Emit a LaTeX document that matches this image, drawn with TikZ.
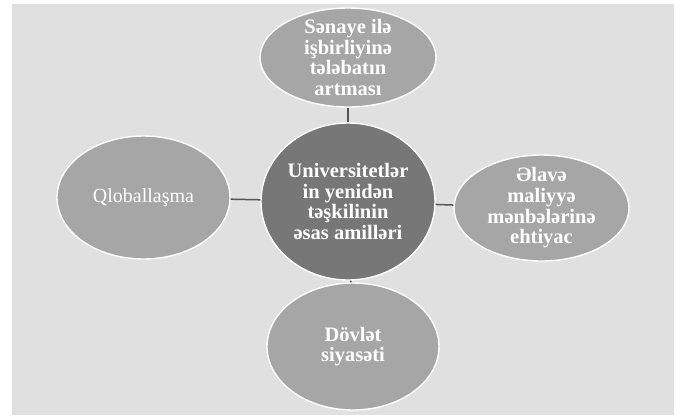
\documentclass[tikz,border=0pt]{standalone}
\usepackage{fontspec}
\setmainfont{Liberation Serif}
\usetikzlibrary{shapes.geometric}
\definecolor{bggray}{HTML}{E0E0E0}
\definecolor{hubgray}{HTML}{777777}
\definecolor{satgray}{HTML}{A6A6A6}
\definecolor{linkgray}{HTML}{555555}
\begin{document}
\begin{tikzpicture}[x=1pt, y=-1pt,
    blob/.style={ellipse, draw=white, line width=1.4pt, inner sep=0pt},
    hub/.style={blob, fill=hubgray},
    sat/.style={blob, fill=satgray},
    txt/.style={text=white, align=center, font=\fontsize{20.5}{20.7}\selectfont\bfseries},
    link/.style={draw=linkgray, line width=1.5pt}]
        \useasboundingbox (0, 0) rectangle (676, 418);
        \fill[bggray] (12, 4) rectangle (674, 415);
        \node (uni) at (348, 201.5) [hub, minimum width=174pt, minimum height=157pt,
            label={[txt]center:Universitetlər\\in yenidən\\təşkilinin\\əsas amilləri}] {};
        \node (ind) at (348, 57.5) [sat, minimum width=176pt, minimum height=99pt,
            label={[txt]center:Sənaye ilə\\işbirliyinə\\tələbatın\\artması}] {};
        \node (glob) at (143.5, 197.5) [sat, minimum width=173pt, minimum height=123pt,
            label={[txt, font=\fontsize{20}{20.7}\selectfont]center:Qloballaşma}] {};
        \node (fin) at (541.5, 208) [sat, minimum width=175pt, minimum height=106pt,
            label={[txt]center:Əlavə\\maliyyə\\mənbələrinə\\ehtiyac}] {};
        \node (gov) at (353, 346.5) [sat, minimum width=172pt, minimum height=127pt,
            label={[txt]center:Dövlət\\siyasəti}] {};
        \draw[link] (uni) -- (ind);
        \draw[link] (uni) -- (glob);
        \draw[link] (uni) -- (fin);
        \draw[link] (uni) -- (gov);
    \end{tikzpicture}
\end{document}
